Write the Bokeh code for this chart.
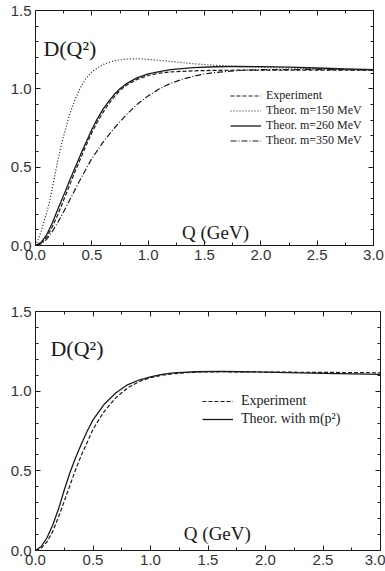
from bokeh.plotting import figure
from bokeh.layouts import column
from bokeh.models import (Range1d, FixedTicker, LinearAxis, Label, Legend,
                          LegendItem, PrintfTickFormatter, CustomLabelingPolicy)
from bokeh.embed import file_html
from bokeh.resources import INLINE

# ---------------- data ----------------
x_ticks = [0.0, 0.5, 1.0, 1.5, 2.0, 2.5, 3.0]
x_minor = [0.25, 0.75, 1.25, 1.75, 2.25, 2.75]
y_ticks = [0.0, 0.5, 1.0, 1.5]
y_minor = [0.1, 0.2, 0.3, 0.4, 0.6, 0.7, 0.8, 0.9, 1.1, 1.2, 1.3, 1.4]

# top panel
q_exp = [0, 0.05, 0.1, 0.15, 0.2, 0.25, 0.3, 0.35, 0.4, 0.45, 0.5, 0.55, 0.6,
         0.65, 0.7, 0.75, 0.8, 0.9, 1.0, 1.1, 1.2, 1.4, 1.6, 2.0, 2.5, 3.0]
d_exp = [0, 0.015, 0.055, 0.12, 0.2, 0.29, 0.38, 0.47, 0.555, 0.64, 0.72, 0.79,
         0.85, 0.905, 0.95, 0.99, 1.02, 1.06, 1.085, 1.1, 1.108, 1.115, 1.118,
         1.12, 1.12, 1.12]

q_150 = [0, 0.025, 0.05, 0.075, 0.1, 0.125, 0.15, 0.175, 0.2, 0.225, 0.25, 0.3,
         0.35, 0.4, 0.45, 0.5, 0.6, 0.7, 0.8, 0.9, 1.0, 1.2, 1.4, 1.6, 1.8, 2.0,
         2.5, 3.0]
d_150 = [0, 0.04, 0.09, 0.15, 0.21, 0.28, 0.37, 0.46, 0.55, 0.63, 0.70, 0.83,
         0.93, 1.01, 1.07, 1.11, 1.155, 1.18, 1.19, 1.192, 1.188, 1.175, 1.16,
         1.15, 1.142, 1.137, 1.128, 1.12]

q_260 = [0, 0.05, 0.1, 0.15, 0.2, 0.25, 0.3, 0.35, 0.4, 0.45, 0.5, 0.55, 0.6,
         0.65, 0.7, 0.75, 0.8, 0.9, 1.0, 1.1, 1.2, 1.4, 1.6, 1.8, 2.0, 2.25,
         2.5, 2.75, 3.0]
d_260 = [0, 0.02, 0.07, 0.145, 0.235, 0.32, 0.41, 0.495, 0.58, 0.66, 0.74,
         0.81, 0.87, 0.92, 0.965, 1.0, 1.03, 1.07, 1.095, 1.11, 1.122, 1.135,
         1.141, 1.143, 1.142, 1.138, 1.133, 1.128, 1.123]

q_350 = [0, 0.05, 0.1, 0.15, 0.2, 0.25, 0.3, 0.35, 0.4, 0.45, 0.5, 0.6, 0.7,
         0.8, 0.9, 1.0, 1.1, 1.2, 1.3, 1.4, 1.5, 1.6, 1.8, 2.0, 2.5, 3.0]
d_350 = [0, 0.01, 0.04, 0.09, 0.15, 0.215, 0.285, 0.355, 0.425, 0.49, 0.555,
         0.66, 0.75, 0.83, 0.90, 0.955, 1.0, 1.035, 1.06, 1.08, 1.095, 1.105,
         1.117, 1.122, 1.124, 1.12]

# bottom panel
q_exp2 = [0, 0.05, 0.1, 0.15, 0.2, 0.25, 0.3, 0.35, 0.4, 0.45, 0.5, 0.55, 0.6,
          0.7, 0.8, 0.9, 1.0, 1.1, 1.2, 1.4, 1.6, 2.0, 2.5, 3.0]
d_exp2 = [0, 0.015, 0.055, 0.12, 0.21, 0.31, 0.41, 0.51, 0.6, 0.68, 0.76,
          0.82, 0.875, 0.96, 1.02, 1.06, 1.085, 1.1, 1.11, 1.12, 1.122, 1.12,
          1.118, 1.115]

q_mp2 = [0, 0.05, 0.1, 0.15, 0.2, 0.25, 0.3, 0.35, 0.4, 0.45, 0.5, 0.55, 0.6,
         0.7, 0.8, 0.9, 1.0, 1.1, 1.2, 1.4, 1.6, 1.8, 2.0, 2.5, 3.0]
d_mp2 = [0, 0.025, 0.08, 0.16, 0.26, 0.38, 0.49, 0.585, 0.67, 0.75, 0.82,
         0.87, 0.92, 0.99, 1.04, 1.07, 1.09, 1.105, 1.115, 1.122, 1.124, 1.122,
         1.12, 1.112, 1.105]

labels_top = ["Experiment", "Theor. m=150 MeV", "Theor. m=260 MeV",
              "Theor. m=350 MeV"]
labels_bot = ["Experiment", "Theor. with m(p\u00b2)"]

# ---------------- styling helpers ----------------
SANS = "Liberation Sans"
SERIF = "Liberation Serif"
INK = "#1a1a1a"


def style_axis(ax, show_labels):
    ax.axis_line_color = INK
    ax.axis_line_width = 1
    ax.major_tick_in = 5
    ax.major_tick_out = 0
    ax.minor_tick_in = 3
    ax.minor_tick_out = 0
    ax.major_tick_line_color = INK
    ax.minor_tick_line_color = INK
    ax.axis_label_standoff = 0
    if show_labels:
        ax.major_label_text_font = SANS
        ax.major_label_text_font_size = "15px"
        ax.major_label_text_color = "#333333"
        ax.major_label_standoff = 4
        ax.formatter = PrintfTickFormatter(format="%.1f")
    else:
        ax.major_label_text_font_size = "0px"
        ax.major_label_standoff = 0
        ax.major_label_policy = CustomLabelingPolicy(code="return []")


def make_fig(fw, fh, bl, br, bt, bb):
    p = figure(frame_width=fw, frame_height=fh, output_backend="svg",
               toolbar_location=None, x_range=Range1d(0, 3),
               y_range=Range1d(0, 1.5), min_border_left=bl,
               min_border_right=br, min_border_top=bt, min_border_bottom=bb)
    p.xgrid.visible = False
    p.ygrid.visible = False
    p.outline_line_color = INK
    p.outline_line_width = 1
    p.background_fill_color = "white"
    p.border_fill_color = "white"
    p.xaxis.ticker = FixedTicker(ticks=x_ticks, minor_ticks=x_minor)
    p.yaxis.ticker = FixedTicker(ticks=y_ticks, minor_ticks=y_minor)
    for ax in p.xaxis + p.yaxis:
        style_axis(ax, True)
    top = LinearAxis(ticker=FixedTicker(ticks=x_ticks, minor_ticks=x_minor))
    right = LinearAxis(ticker=FixedTicker(ticks=y_ticks, minor_ticks=y_minor))
    style_axis(top, False)
    style_axis(right, False)
    p.add_layout(top, "above")
    p.add_layout(right, "right")
    return p


def add_text(p, x, y, txt, size):
    p.add_layout(Label(x=x, y=y, text=txt, text_font=SERIF,
                       text_font_size=size, text_color=INK,
                       text_baseline="alphabetic"))


# ---------------- top panel ----------------
p1 = make_fig(338, 235, 35, 12, 10, 30)
r_exp = p1.line(q_exp, d_exp, line_color=INK, line_width=1.2, line_dash="4 2")
r_150 = p1.line(q_150, d_150, line_color=INK, line_width=1.2, line_dash="1 2")
r_260 = p1.line(q_260, d_260, line_color=INK, line_width=1.3)
r_350 = p1.line(q_350, d_350, line_color=INK, line_width=1.2,
                line_dash="6 2 1 2")
add_text(p1, 0.07, 1.26, "D(Q\u00b2)", "22px")
add_text(p1, 1.30, 0.085, "Q (GeV)", "19px")
leg1 = Legend(items=[LegendItem(label=l, renderers=[r]) for l, r in
                     zip(labels_top, [r_exp, r_150, r_260, r_350])],
              location=(195, 97), padding=0, margin=0, spacing=-1,
              glyph_width=31, glyph_height=13, label_height=13,
              label_standoff=5, label_text_font=SERIF,
              label_text_font_size="12px", label_text_color=INK,
              border_line_color=None, background_fill_alpha=0)
p1.add_layout(leg1)

# ---------------- bottom panel ----------------
p2 = make_fig(345, 239, 32, 8, 36, 20)
s_exp = p2.line(q_exp2, d_exp2, line_color=INK, line_width=1.2,
                line_dash="4 2")
s_mp2 = p2.line(q_mp2, d_mp2, line_color=INK, line_width=1.3)
add_text(p2, 0.13, 1.27, "D(Q\u00b2)", "22px")
add_text(p2, 1.29, 0.105, "Q (GeV)", "19px")
leg2 = Legend(items=[LegendItem(label=l, renderers=[r]) for l, r in
                     zip(labels_bot, [s_exp, s_mp2])],
              location=(167, 123), padding=0, margin=0, spacing=2,
              glyph_width=31, glyph_height=16, label_height=16,
              label_standoff=8, label_text_font=SERIF,
              label_text_font_size="14px", label_text_color=INK,
              border_line_color=None, background_fill_alpha=0)
p2.add_layout(leg2)

layout = column(p1, p2, spacing=0)
open("out.html", "w").write(file_html(layout, INLINE))
